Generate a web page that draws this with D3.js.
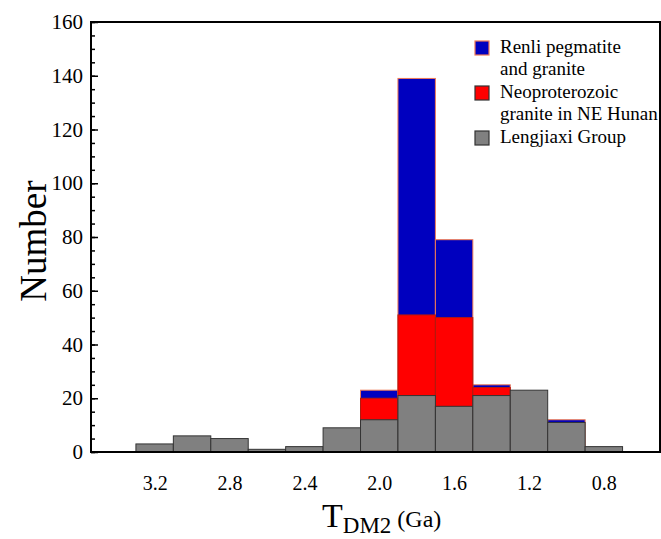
<!DOCTYPE html>
<html>
<head>
<meta charset="utf-8">
<script src="https://cdn.jsdelivr.net/npm/d3@7"></script>
<style>
  body { margin: 0; background: #fff; }
  svg { display: block; }
</style>
</head>
<body>
<div id="chart"></div>
<script>
var serif = "'Liberation Serif', 'Times New Roman', serif";

// bin centres, TDM2 (Ga)
var binCentres = [3.2, 3.0, 2.8, 2.6, 2.4, 2.2, 2.0, 1.8, 1.6, 1.4, 1.2, 1.0, 0.8];
var binWidth = 0.2;

// counts per bin (overlaid, drawn back to front)
var renli = [0, 0, 0, 0, 0, 0, 23, 139, 79, 25, 0, 12, 0];
var neoproterozoic = [0, 0, 0, 0, 0, 0, 20, 51, 50, 24, 0, 0, 0];
var lengjiaxi = [3, 6, 5, 1, 2, 9, 12, 21, 17, 21, 23, 11, 2];

var xTicks = [3.2, 2.8, 2.4, 2.0, 1.6, 1.2, 0.8];
var yTicks = [0, 20, 40, 60, 80, 100, 120, 140, 160];

var series = [
	{ name: ["Renli pegmatite", "and granite"], values: renli, fill: "#0000bf", stroke: "#f07a55" },
	{ name: ["Neoproterozoic", "granite in NE Hunan"], values: neoproterozoic, fill: "#ff0000", stroke: "#b01a10" },
	{ name: ["Lengjiaxi Group"], values: lengjiaxi, fill: "#808080", stroke: "#333333" }
];

var margin = {top: 22, right: 1, bottom: 87, left: 91},
	width = 661 - margin.left - margin.right,
	height = 539 - margin.top - margin.bottom;

var svg = d3.select("#chart")
	.append("svg")
	.attr("width", 661)
	.attr("height", 539)
	.append("g")
		.attr("transform", "translate(" + margin.left + "," + margin.top + ")");

var x = d3.scaleLinear()
	.domain([3.54, 0.50])
	.range([0, width]);

var y = d3.scaleLinear()
	.domain([0, 160])
	.range([height, 0]);

// bars, blue at the back, grey in front
series.forEach(function(s) {
	svg.append("g")
		.selectAll("rect")
		.data(binCentres.map(function(c, i) { return {c: c, v: s.values[i]}; })
			.filter(function(d) { return d.v > 0; }))
		.enter()
		.append("rect")
		.attr("x", function(d) { return x(d.c + binWidth / 2); })
		.attr("width", function(d) { return x(d.c - binWidth / 2) - x(d.c + binWidth / 2); })
		.attr("y", function(d) { return y(d.v); })
		.attr("height", function(d) { return y(0) - y(d.v); })
		.attr("fill", s.fill)
		.attr("stroke", s.stroke)
		.attr("stroke-width", 1);
});

// minor y ticks
svg.append("g")
	.call(d3.axisLeft(y).tickValues(d3.range(0, 161, 5)).tickSize(-4).tickFormat(""))
	.call(function(g) { g.select(".domain").remove(); })
	.selectAll("line").attr("stroke", "#000").attr("stroke-width", 1.5);

// major y ticks
var yAxis = svg.append("g")
	.call(d3.axisLeft(y).tickValues(yTicks).tickSize(-7).tickPadding(8))
	.call(function(g) { g.select(".domain").remove(); });
yAxis.selectAll("line").attr("stroke", "#000").attr("stroke-width", 1.5);
yAxis.selectAll("text")
	.style("font-family", serif)
	.style("font-size", "21px");

// x tick labels
var xAxis = svg.append("g")
	.attr("transform", "translate(0," + height + ")")
	.call(d3.axisBottom(x).tickValues(xTicks).tickSize(0).tickPadding(24).tickFormat(d3.format(".1f")))
	.call(function(g) { g.select(".domain").remove(); });
xAxis.selectAll("text")
	.style("font-family", serif)
	.style("font-size", "20px");

// frame
svg.append("rect")
	.attr("x", 0)
	.attr("y", 0)
	.attr("width", width)
	.attr("height", height)
	.attr("fill", "none")
	.attr("stroke", "#000")
	.attr("stroke-width", 2);

// axis titles
svg.append("text")
	.attr("transform", "translate(" + (-margin.left + 46) + "," + (height / 2 + 4) + ") rotate(-90)")
	.style("text-anchor", "middle")
	.style("font-family", serif)
	.style("font-size", "37px")
	.text("Number");

var xTitle = svg.append("text")
	.attr("x", 231)
	.attr("y", height + 75)
	.style("font-family", serif);
xTitle.append("tspan").style("font-size", "34px").text("T");
xTitle.append("tspan").style("font-size", "23px").attr("dy", 6).text("DM2");
xTitle.append("tspan").style("font-size", "24px").attr("dy", -6).text(" (Ga)");

// legend
var legend = svg.append("g")
	.attr("transform", "translate(384,19)");

var rowY = 0;
series.forEach(function(s) {
	legend.append("rect")
		.attr("x", 0)
		.attr("y", rowY)
		.attr("width", 14)
		.attr("height", 14)
		.attr("fill", s.fill)
		.attr("stroke", s === series[0] ? s.stroke : "#333")
		.attr("stroke-width", 1.2);
	s.name.forEach(function(line, j) {
		legend.append("text")
			.attr("x", 25)
			.attr("y", rowY + 12 + j * 21.5)
			.style("font-family", serif)
			.style("font-size", "19px")
			.text(line);
	});
	rowY += s.name.length * 21.5 + 2;
});
</script>
</body>
</html>
